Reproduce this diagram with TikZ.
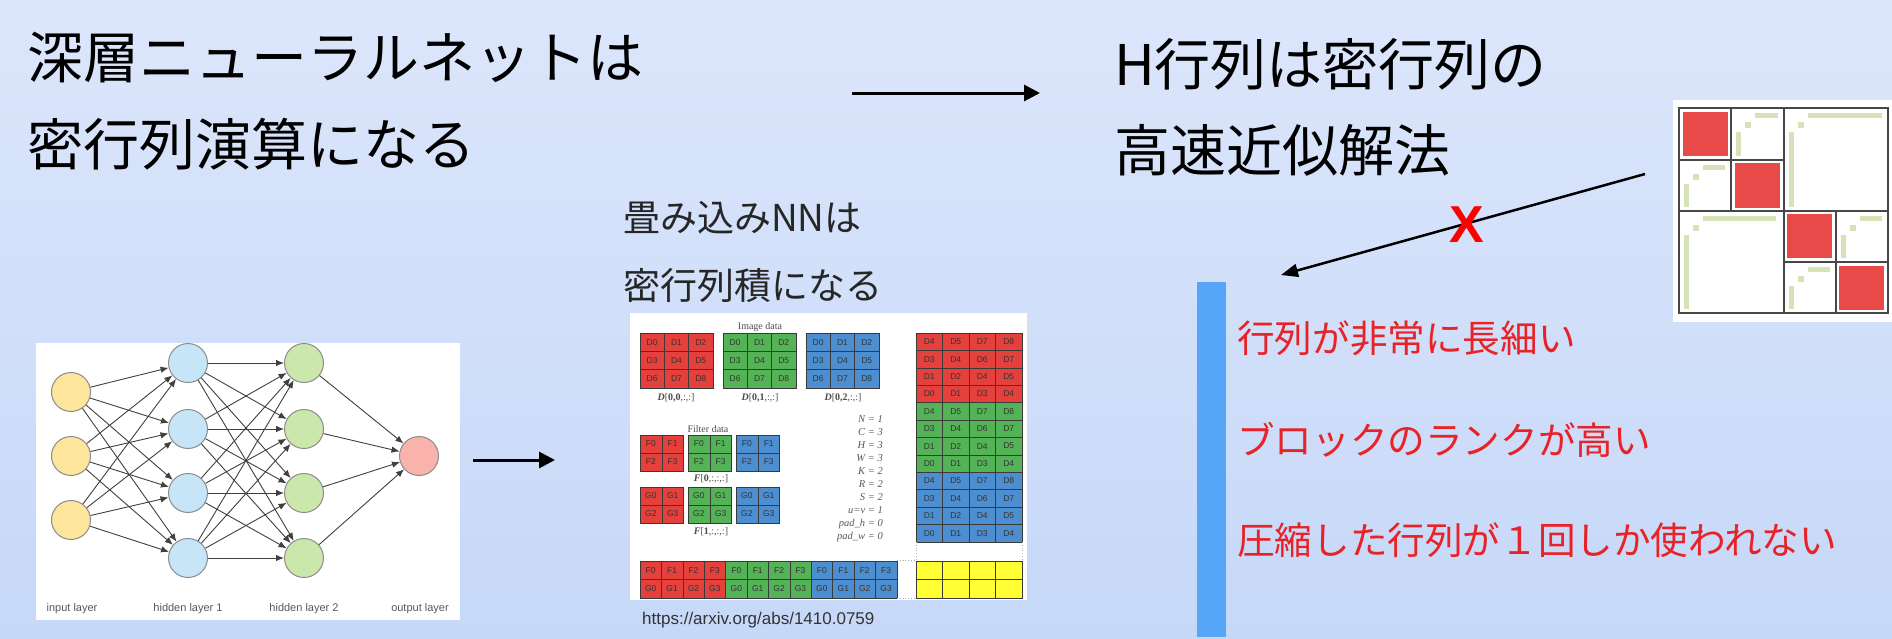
\documentclass[tikz,border=0pt]{standalone}
\usepackage{fontspec}
\setmainfont{Liberation Serif}
\setsansfont{Liberation Sans}
\newfontfamily\jp{Noto Sans CJK JP}
\usetikzlibrary{arrows.meta}
\definecolor{bgtop}{HTML}{DCE6FB}
\definecolor{bgbot}{HTML}{C6D8F8}
\definecolor{nnyellow}{HTML}{FEE59C}
\definecolor{nnblue}{HTML}{C6E5F6}
\definecolor{nngreen}{HTML}{CBE7AC}
\definecolor{nnpink}{HTML}{F9B3AC}
\definecolor{cred}{HTML}{E5403B}
\definecolor{cgreen}{HTML}{55B357}
\definecolor{cblue}{HTML}{4C8ED0}
\definecolor{cyellow}{HTML}{FFFF33}
\definecolor{cellline}{HTML}{3A3A3A}
\definecolor{hred}{HTML}{E84A4A}
\definecolor{lrgreen}{HTML}{D6E2B8}
\definecolor{gridc}{HTML}{474747}
\definecolor{barblue}{HTML}{55A6F8}
\definecolor{redtext}{HTML}{E82226}
\newcommand\lowrank[3]{%
  \fill[lrgreen] (#1+24,#2+5) rectangle (#1+#3-5,#2+10);
  \fill[lrgreen] (#1+14,#2+14) rectangle (#1+20,#2+20);
  \fill[lrgreen] (#1+5,#2+24) rectangle (#1+10,#2+#3-4);}
\tikzset{
  title/.style={inner sep=0pt, font=\jp\fontsize{56}{56}\selectfont, text=black, anchor=base west},
  sub/.style={inner sep=0pt, font=\jp\fontsize{37}{37}\selectfont, text=black!85, anchor=base west},
  redline/.style={inner sep=0pt, font=\jp\fontsize{37.6}{37.6}\selectfont, text=redtext, anchor=base west},
  bigarrow/.style={line width=3pt, -{Triangle[length=16pt,width=16pt]}},
  neuron/.style={circle, draw=black!45, line width=1pt, minimum size=39pt, inner sep=0pt},
  nnedge/.style={draw=black!75, line width=0.9pt, -{Latex[length=8pt,width=6.5pt]}},
  nnlabel/.style={inner sep=0pt, font=\sffamily\fontsize{11}{11}\selectfont, text=black!65, anchor=base},
  cell/.style={draw=cellline, line width=0.5pt, inner sep=0pt, font=\sffamily\fontsize{8.5}{8.5}\selectfont, text=black!80},
  caplabel/.style={inner sep=0pt, font=\fontsize{10}{10}\selectfont, text=black!70},
  param/.style={inner sep=0pt, font=\itshape\fontsize{10.5}{10.5}\selectfont, text=black!65, anchor=base east},
}
\begin{document}
\begin{tikzpicture}[x=1pt,y=-1pt]
\useasboundingbox (0,0) rectangle (1892,638);
\shade[top color=bgtop,bottom color=bgbot] (0,0) rectangle (1892,638);

% titles
\node[title] (t1) at (27,78) {深層ニューラルネットは};
\node[title] (t2) at (27,165) {密行列演算になる};
\node[title] (t3) at (1114,85) {H行列は密行列の};
\node[title] (t4) at (1114,171) {高速近似解法};
\coordinate (a1s) at (852,93);
\coordinate (a1e) at (1040,93);
\draw[bigarrow] (a1s) -- (a1e);

% neural network picture
\fill[white] (36,343) rectangle (460,620);
\foreach \y [count=\k] in {392,456,520} \node[neuron, fill=nnyellow] (i\k) at (71,\y) {};
\foreach \y [count=\k] in {363,429,493,558} \node[neuron, fill=nnblue] (h\k) at (188,\y) {};
\foreach \y [count=\k] in {363,429,493,558} \node[neuron, fill=nngreen] (g\k) at (304,\y) {};
\node[neuron, fill=nnpink] (o1) at (419,456) {};
\foreach \a in {1,2,3} \foreach \b in {1,...,4} \draw[nnedge] (i\a) -- (h\b);
\foreach \a in {1,...,4} \foreach \b in {1,...,4} \draw[nnedge] (h\a) -- (g\b);
\foreach \a in {1,...,4} \draw[nnedge] (g\a) -- (o1);
\node[nnlabel] (l1) at (72,611) {input layer};
\node[nnlabel] (l2) at (188,611) {hidden layer 1};
\node[nnlabel] (l3) at (304,611) {hidden layer 2};
\node[nnlabel] (l4) at (420,611) {output layer};

% arrows in the middle row
\coordinate (a2s) at (473,460);
\coordinate (a2e) at (555,460);
\draw[bigarrow] (a2s) -- (a2e);
\coordinate (a3s) at (888,460);
\coordinate (a3e) at (970,460);
\draw[bigarrow] (a3s) -- (a3e);

% convolution text
\node[sub] (s1) at (623,231) {畳み込みNNは};
\node[sub] (s2) at (623,299) {密行列積になる};

% convolution picture
\fill[white] (630,313) rectangle (1027,600);
\node[caplabel] (imgd) at (760,327) {Image data};
\foreach \bx/\col [count=\q] in {640/cred,723/cgreen,806/cblue}{
  \foreach \r in {0,1,2}{
    \foreach \c in {0,1,2}{
      \pgfmathtruncatemacro\k{3*\r+\c}
      \node[cell, fill=\col, minimum width=24.3pt, minimum height=18.3pt] (d-\q-\r-\c) at ({\bx+12.15+24.3*\c},{333+9.15+18.3*\r}) {D\k};
    }
  }
}
\node[caplabel] (dl1) at (676,398) {\textbf{\textit{D}}[\textbf{0,0},:,:]};
\node[caplabel] (dl2) at (760,398) {\textbf{\textit{D}}[\textbf{0,1},:,:]};
\node[caplabel] (dl3) at (843,398) {\textbf{\textit{D}}[\textbf{0,2},:,:]};
\node[caplabel] (fild) at (708,429) {Filter data};
\foreach \bx/\col [count=\q] in {640/cred,688/cgreen,736/cblue}{
  \foreach \r in {0,1}{
    \foreach \c in {0,1}{
      \pgfmathtruncatemacro\k{2*\r+\c}
      \node[cell, fill=\col, minimum width=21.8pt, minimum height=18pt] (f-\q-\r-\c) at ({\bx+10.9+21.8*\c},{435+9+18*\r}) {F\k};
      \node[cell, fill=\col, minimum width=21.8pt, minimum height=18pt] (g-\q-\r-\c) at ({\bx+10.9+21.8*\c},{487+9+18*\r}) {G\k};
    }
  }
}
\node[caplabel] (fl1) at (711,479) {\textbf{\textit{F}}[\textbf{0},:,:,:]};
\node[caplabel] (fl2) at (711,532) {\textbf{\textit{F}}[\textbf{1},:,:,:]};
\foreach \t [count=\n from 0] in {N = 1,C = 3,H = 3,W = 3,K = 2,R = 2,S = 2,u=v = 1,pad\_h = 0,pad\_w = 0}{
  \node[param] (p\n) at (883,{422+13.1*\n}) {\t};
}
\foreach \g/\col in {0/cred,1/cgreen,2/cblue}{
  \foreach \r/\la/\lb/\lc/\ld in {0/4/5/7/8,1/3/4/6/7,2/1/2/4/5,3/0/1/3/4}{
    \pgfmathsetmacro\yy{333+(4*\g+\r)*17.4+8.7}
    \foreach \c/\lab in {0/\la,1/\lb,2/\lc,3/\ld}{
      \node[cell, fill=\col, minimum width=26.5pt, minimum height=17.4pt] (rc-\g-\r-\c) at ({916+13.25+26.5*\c},\yy) {D\lab};
    }
  }
}
\draw[black!30, dotted, line width=0.8pt] (916,542) -- (916,561) (1022,542) -- (1022,561);
\foreach \r in {0,1}{
  \foreach \c in {0,...,3}{
    \node[cell, fill=cyellow, minimum width=26.5pt, minimum height=18.5pt] (y-\r-\c) at ({916+13.25+26.5*\c},{561+9.25+18.5*\r}) {};
  }
}
\foreach \g/\col in {0/cred,1/cgreen,2/cblue}{
  \foreach \c in {0,...,3}{
    \node[cell, fill=\col, minimum width=21.4pt, minimum height=18.5pt] (bf-\g-\c) at ({640+10.7+21.4*(4*\g+\c)},570.25) {F\c};
    \node[cell, fill=\col, minimum width=21.4pt, minimum height=18.5pt] (bg-\g-\c) at ({640+10.7+21.4*(4*\g+\c)},588.75) {G\c};
  }
}
\draw[black!35, dotted, line width=0.8pt] (bf-2-3.north east) -- (y-0-0.north west);
\draw[black!35, dotted, line width=0.8pt] (bg-2-3.south east) -- (y-1-0.south west);
\node[inner sep=0pt, font=\sffamily\fontsize{17}{17}\selectfont, text=black!80, anchor=base west] (url) at (642,624) {https://arxiv.org/abs/1410.0759};

% H-matrix picture
\fill[white] (1673,100) rectangle (1892,322);
\fill[hred] (1683,112) rectangle (1728,156);
\fill[hred] (1735,163) rectangle (1780,208);
\fill[hred] (1787,214) rectangle (1832,258);
\fill[hred] (1839,266) rectangle (1884,310);
\lowrank{1731}{108}{52}
\lowrank{1679}{160}{51}
\lowrank{1784}{108}{103}
\lowrank{1679}{211}{102}
\lowrank{1836}{211}{51}
\lowrank{1784}{262}{51}
\draw[gridc, line width=2pt] (1784,108) -- (1784,313) (1679,211) -- (1888,211)
  (1731,108) -- (1731,211) (1679,160) -- (1784,160)
  (1836,211) -- (1836,313) (1784,262) -- (1888,262);
\draw[gridc, line width=2.5pt] (1679,108) rectangle (1888,313);

% crossed arrow
\coordinate (la-s) at (1645,174);
\coordinate (la-e) at (1281,275);
\draw[line width=2.5pt, -{Triangle[length=17pt,width=13pt]}] (la-s) -- (la-e);
\node[inner sep=0pt, font=\sffamily\bfseries\fontsize{52}{52}\selectfont, text=red] (xmark) at (1467,225) {X};

% blue bar and red remarks
\fill[barblue] (1197,282) rectangle (1226,637);
\node[redline] (r1) at (1237,352) {行列が非常に長細い};
\node[redline] (r2) at (1237,454) {ブロックのランクが高い};
\node[redline] (r3) at (1237,554) {圧縮した行列が１回しか使われない};
\end{tikzpicture}
\end{document}
